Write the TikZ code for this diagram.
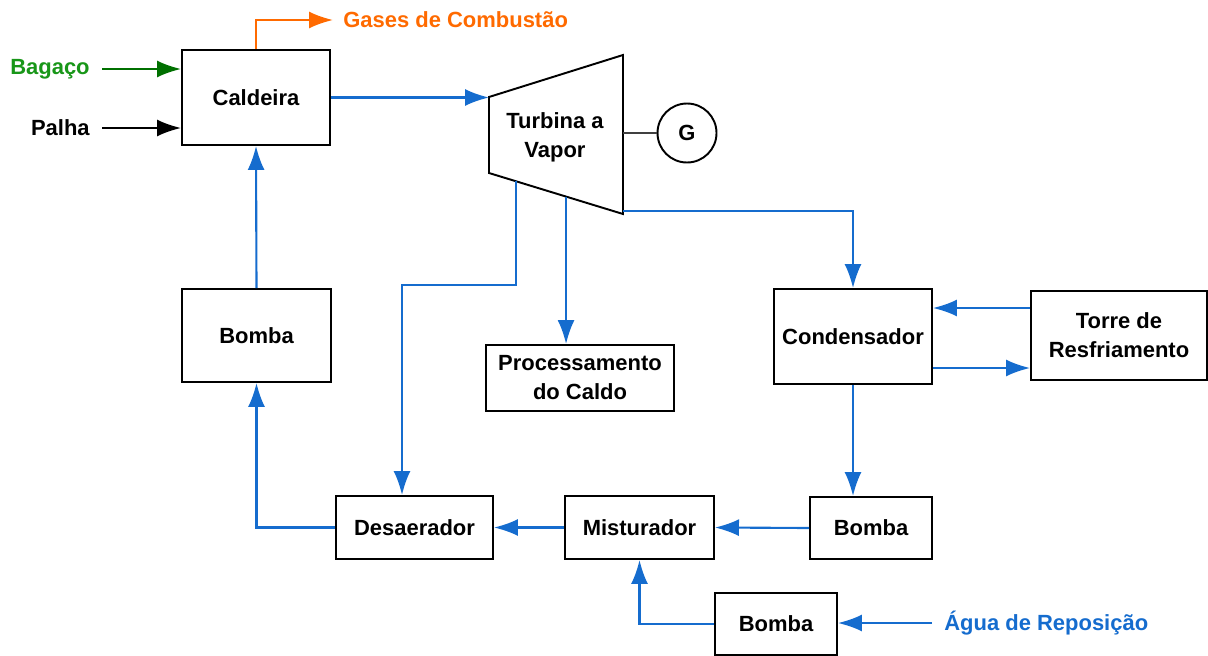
\documentclass[tikz,border=0pt]{standalone}
\usepackage{fontspec}
\setmainfont{Liberation Sans}
\usepackage{tikz}
\usetikzlibrary{arrows.meta}
\usetikzlibrary{calc}
\tikzset{>={Latex[length=4.8mm, width=3.4mm]}}
\definecolor{flowblue}{RGB}{21,108,206}
\definecolor{fuelgreen}{RGB}{0,112,0}
\definecolor{fueltext}{RGB}{24,150,24}
\definecolor{gasorange}{RGB}{255,106,0}
\tikzset{
    unit/.style={draw, line width=1.1pt, align=center, inner sep=0pt,
        font=\fontsize{12.5}{16.5}\selectfont\bfseries},
    tag/.style={inner sep=0pt, font=\fontsize{12.5}{16.5}\selectfont\bfseries},
    flow/.style={draw=flowblue, line width=1.2pt},
}

\begin{document}
\begin{tikzpicture}
    \useasboundingbox (0, 0) rectangle (24.16, -13.1);
    % equipamentos
    \node[unit, minimum width=2.96cm, minimum height=1.9cm] (cald) at (5.12, -1.95) {Caldeira};
    \node[unit, minimum width=2.98cm, minimum height=1.86cm] (bomba1) at (5.13, -6.71) {Bomba};
    \node[unit, minimum width=3.76cm, minimum height=1.32cm] (proc) at (11.6, -7.56) {Processamento\\do Caldo};
    \node[unit, minimum width=3.16cm, minimum height=1.9cm] (cond) at (17.06, -6.73) {Condensador};
    \node[unit, minimum width=3.52cm, minimum height=1.78cm] (torre) at (22.38, -6.71) {Torre de\\Resfriamento};
    \node[unit, minimum width=2.44cm, minimum height=1.24cm] (bomba2) at (17.42, -10.56) {Bomba};
    \node[unit, minimum width=2.98cm, minimum height=1.26cm] (mist) at (12.79, -10.55) {Misturador};
    \node[unit, minimum width=3.14cm, minimum height=1.26cm] (desa) at (8.29, -10.55) {Desaerador};
    \node[unit, minimum width=2.44cm, minimum height=1.24cm] (bomba3) at (15.52, -12.48) {Bomba};

    % turbina
    \coordinate (t1) at (9.78, -1.94);
    \coordinate (t2) at (12.46, -1.1);
    \coordinate (t3) at (12.46, -4.28);
    \coordinate (t4) at (9.78, -3.46);
    \draw[line width=1.1pt, line join=miter](t1)--(t2)--(t3)--(t4)--cycle;
    \node[tag, align=center] (turb) at (11.1, -2.74) {Turbina a\\Vapor};
    \node[unit, circle, minimum size=1.18cm] (gen) at (13.74, -2.66) {G};
    \draw[line width=0.8pt, black!75](gen.west)--(gen.west -| t2);

    % entradas e saidas
    \node[tag, anchor=east, text=fueltext] (bag) at (1.8, -1.38) {Bagaço};
    \node[tag, anchor=east] (palha) at (1.8, -2.56) {Palha};
    \node[tag, anchor=west, text=gasorange] (gas) at (6.86, -0.4) {Gases de Combustão};
    \node[tag, anchor=west, text=flowblue] (agua) at (18.88, -12.46) {Água de Reposição};
    \draw[->, fuelgreen, line width=1.2pt]([xshift=2.4mm]bag.east)--(bag -| cald.west);
    \draw[->, black, line width=1.2pt]([xshift=2.4mm]palha.east)--(palha -| cald.west);
    \draw[->, gasorange, line width=1.2pt](cald.north)|-([xshift=-2mm]gas.west);
    \draw[->, flow]([xshift=-2.4mm]agua.west)--(agua -| bomba3.east);

    % vapor
    \coordinate (s1) at ($(t4)!0.2!(t3)$);
    \coordinate (s2) at ($(t4)!0.575!(t3)$);
    \coordinate (kink) at (8.04, -5.7);
    \draw[->, flow](cald.east)--(cald.east -| t1);
    \draw[->, flow](s1)|-(kink)--(kink |- desa.north);
    \draw[->, flow](s2)--(s2 |- proc.north);
    \draw[->, flow]([yshift=0.6mm]t3)-|(cond.north);

    % agua
    \draw[->, flow]([yshift=5.5mm]torre.west)--([yshift=5.5mm]torre.west -| cond.east);
    \draw[->, flow]([yshift=-6.3mm]cond.east)--([yshift=-6.3mm]cond.east -| torre.west);
    \draw[->, flow](cond.south)--(cond.south |- bomba2.north);
    \draw[->, flow](bomba2.west)--(mist.east);
    \draw[->, flow](bomba3.west)-|(mist.south);
    \draw[->, flow](mist.west)--(desa.east);
    \draw[->, flow](desa.west)-|(bomba1.south);
    \draw[->, flow](bomba1.north)--(cald.south);
\end{tikzpicture}
\end{document}
